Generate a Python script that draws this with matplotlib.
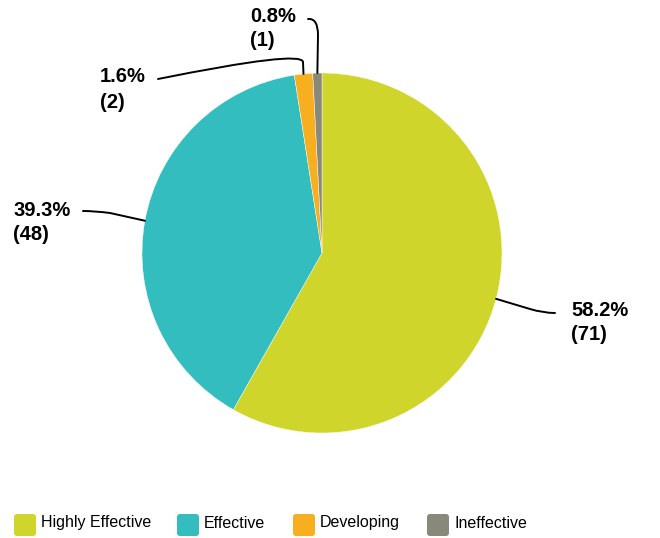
import numpy as np
import matplotlib.pyplot as plt
from matplotlib.path import Path
from matplotlib.patches import PathPatch, FancyBboxPatch

categories = ['Highly Effective', 'Effective', 'Developing', 'Ineffective']
counts = [71, 48, 2, 1]
colors = ['#CFD52A', '#33BDBE', '#F7AE1F', '#89897A']

H = 538
fig = plt.figure(figsize=(6.6, 5.38), dpi=100)
ax = fig.add_axes([0, 0, 1, 1])

cx, cy, R = 322, 253, 180  # pixel coords, y down
wedges, _ = ax.pie(counts, colors=colors, startangle=90, counterclock=False,
                   center=(cx, H - cy), radius=R, frame=True,
                   wedgeprops=dict(edgecolor='white', linewidth=0.3))
ax.set_xlim(0, 660)
ax.set_ylim(0, H)
ax.set_aspect('equal')
ax.axis('off')

total = sum(counts)
labels = ['%.1f%%\n(%d)' % (100 * c / total, c) for c in counts]

# edge point of each wedge (middle angle)
edge = []
for w in wedges:
    a = np.deg2rad((w.theta1 + w.theta2) / 2)
    edge.append((cx + R * np.cos(a), cy - R * np.sin(a)))

# label positions (left x, centre y of first line) and leader paths
label_pos = [(571, 310), (13, 210), (100, 77), (250, 16)]
# start, bend control, bend end (then straight to wedge edge)
leaders = [
    [(555, 313), (543, 313), (530, 309)],
    [(83, 211), (95, 211), (110, 213)],
    [(158, 79), (302, 50), (303, 62)],
    [(308, 19), (318, 18), (318, 35)],
]

def draw_leader(pts, end):
    v = [(x, H - y) for x, y in list(pts) + [end]]
    path = Path(v, [Path.MOVETO, Path.CURVE3, Path.CURVE3, Path.LINETO])
    ax.add_patch(PathPatch(path, fill=False, edgecolor='black', lw=1.4,
                           capstyle='round'))

for i in range(len(counts)):
    draw_leader(leaders[i], edge[i])
    x, y = label_pos[i]
    top, bottom = labels[i].split('\n')
    ax.text(x, H - y, top, ha='left', va='center',
            fontsize=14.5, fontweight='bold', family='Liberation Sans')
    ax.text(x, H - y - 25, bottom, ha='left', va='center',
            fontsize=14.5, fontweight='bold', family='Liberation Sans')

# legend
leg_x = [14, 177, 293, 427]
for i, name in enumerate(categories):
    ax.add_patch(FancyBboxPatch((leg_x[i], H - 536), 22, 22,
                                boxstyle='round,pad=0,rounding_size=3',
                                facecolor=colors[i], edgecolor='none'))
    ax.text(leg_x[i] + 27, H - 523, name, ha='left', va='center',
            fontsize=11.5, family='Liberation Sans')

fig.savefig('out.png', dpi=100)
